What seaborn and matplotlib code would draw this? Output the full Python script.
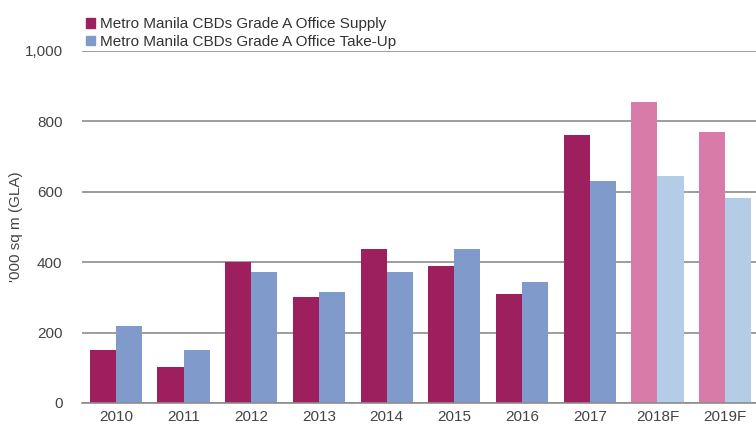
import numpy as np
import pandas as pd
import seaborn as sns
import matplotlib.pyplot as plt
from matplotlib.patches import Rectangle

sns.set_theme(style="white")
plt.rcParams['font.family'] = ['Liberation Sans', 'DejaVu Sans']

# Values ('000 sq m GLA)
years = ['2010', '2011', '2012', '2013', '2014', '2015', '2016', '2017', '2018F', '2019F']
supply = [150, 102, 400, 301, 437, 390, 309, 761, 855, 770]
take_up = [219, 150, 372, 315, 372, 437, 344, 630, 645, 582]
series_names = ['Metro Manila CBDs Grade A Office Supply',
                'Metro Manila CBDs Grade A Office Take-Up']
forecast_years = ['2018F', '2019F']

colors = {series_names[0]: '#9E1F5E', series_names[1]: '#7F9ACB'}
forecast_colors = {series_names[0]: '#D97BA8', series_names[1]: '#B3CDE6'}

df = pd.DataFrame({
    'Year': years * 2,
    'Value': supply + take_up,
    'Series': [series_names[0]] * len(years) + [series_names[1]] * len(years),
})

fig = plt.figure(figsize=(7.56, 4.26), dpi=100)
ax = fig.add_axes([82 / 756, 1 - 403 / 426, 677 / 756, 352 / 426])

sns.barplot(data=df, x='Year', y='Value', hue='Series', order=years,
            hue_order=series_names, palette=colors, width=0.77, gap=0,
            saturation=1, linewidth=0, legend=False, ax=ax)

# lighter colours for forecast years
for cont, name in zip(ax.containers, series_names):
    for bar, yr in zip(cont, years):
        if yr in forecast_years:
            bar.set_facecolor(forecast_colors[name])

ax.set_ylim(0, 1000)
ax.set_xlim(-0.5, len(years) - 0.5)
ax.set_yticks([0, 200, 400, 600, 800, 1000])
ax.set_yticklabels(['0', '200', '400', '600', '800', '1,000'])
ax.yaxis.grid(True, color='#8c8c8c', linewidth=1.2)
ax.set_axisbelow(True)

ax.set_xlabel('')
ax.set_ylabel("'000 sq m (GLA)", fontsize=11, color='#444444')
ax.yaxis.set_label_coords(-(82 - 23) / 677, 0.5)

for side in ['top', 'right', 'left']:
    ax.spines[side].set_visible(False)
ax.spines['bottom'].set_color('#8c8c8c')
ax.spines['bottom'].set_linewidth(1.2)

ax.tick_params(axis='y', length=0, pad=14, labelsize=11, labelcolor='#444444')
ax.tick_params(axis='x', which='major', length=0, pad=5, labelsize=11, labelcolor='#444444')
ax.set_xticks(np.arange(-0.5, len(years), 1), minor=True)
ax.tick_params(axis='x', which='minor', length=5, width=1, color='#8c8c8c', direction='out')

handles = [Rectangle((0, 0), 1, 1, color=colors[n]) for n in series_names]
fig.legend(handles=handles, labels=series_names, loc='upper left',
           bbox_to_anchor=(83 / 756, 1 - 14 / 426), frameon=False,
           fontsize=11, handlelength=0.6, handleheight=0.6, handletextpad=0.3,
           labelspacing=0.25, borderaxespad=0, borderpad=0.2,
           labelcolor='#333333')

fig.savefig('out.png', dpi=100)
